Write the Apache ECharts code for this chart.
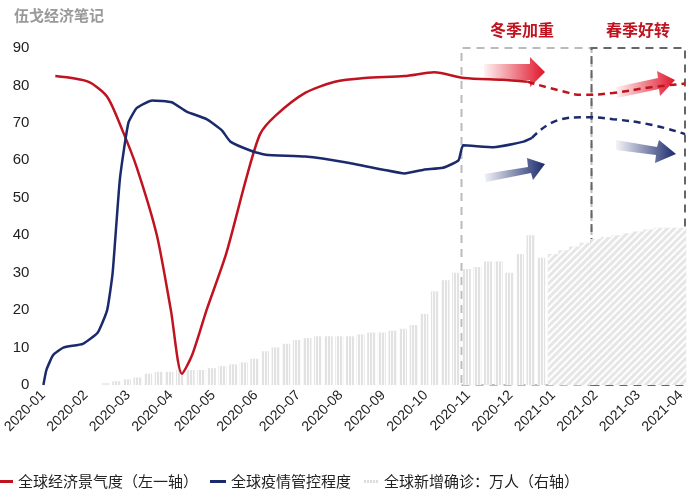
<!DOCTYPE html>
<html style="height: 100%">
<head>
<meta charset="utf-8">
<script src="https://cdn.jsdelivr.net/npm/echarts@6/dist/echarts.min.js"></script>
</head>
<body style="height: 100%; margin: 0">
<div id="container" style="height: 100%"></div>
<script type="text/javascript">
// x positions are in months counted from 2020-01
var monthLabels = ['2020-01','2020-02','2020-03','2020-04','2020-05','2020-06','2020-07','2020-08',
  '2020-09','2020-10','2020-11','2020-12','2021-01','2021-02','2021-03','2021-04'];

var econX = [0.28,1.05,1.5,1.86,2.2,2.67,3.0,3.26,3.5,3.84,4.3,4.77,5.1,5.47,6.16,6.86,7.56,8.5,9.2,9.9,10.8,11.4];
var econY = [82.5,81,77,68,58,40,20,3,8,20,35,55,67,72,78,81,82,82.5,83.5,82,81.5,81];
var econFx = [11.4,12.2,12.7,13.4,14.3,15.1];
var econFy = [81,78.5,77.5,78,79.5,80.5];

var ctrlX = [0,0.07,0.23,0.47,0.93,1.28,1.5,1.63,1.8,2.0,2.2,2.56,3.02,3.37,3.84,4.2,4.4,4.9,5.23,6.16,7.1,8.0,8.5,8.95,9.4,9.77,9.88,10.6,11.3,11.5];
var ctrlY = [0,4,8,10,11,14,20,30,55,70,74,76,75.5,73,71,68,65,62.5,61.5,61,59.5,57.5,56.5,57.5,58,60,64,63.5,65,66];
var ctrlFx = [11.5,12.2,12.7,13.4,14.3,15.1];
var ctrlFy = [66,71,71.5,71,69.5,67];

var caseX = [1.5,1.75,2.0,2.25,2.5,2.75,3.0,3.25,3.5,3.75,4.0,4.25,4.5,4.75,5.0,5.25,5.5,5.75,6.0,6.25,6.5,6.75,
  7.0,7.25,7.5,7.75,8.0,8.25,8.5,8.75,9.0,9.25,9.5,9.75,10.0,10.25,10.5,10.75,11.0,11.25,11.5,11.75];
var caseY = [0.5,1,1.5,2,3,3.5,3.5,4,4,4,4.5,5,5.5,6,7,9,10,11,12,12.5,13,13,13,13,13.5,14,14,14.5,15,16,19,25,
  28,30,31,31.5,33,33,30,35,40,34];
var caseFx = [12.0,12.25,12.5,12.75,13.0,13.25,13.5,13.75,14.0,14.25,14.5,14.75,15.0];
var caseFy = [35,36,37,38,39,39.5,40,40.5,41,41.5,42,42,42];

function pairs(xs, ys) { return xs.map(function (x, i) { return [x, ys[i]]; }); }

var chart = echarts.init(document.getElementById('container'));
var red = '#c0131f', navy = '#1a2a6c';
chart.setOption({
  animation: false,
  grid: { left: 35, right: 15, top: 48, bottom: 115 },
  legend: {
    bottom: 6, left: -8, itemGap: 12, itemWidth: 16, itemHeight: 3,
    textStyle: { fontSize: 15, color: '#222', fontFamily: 'Noto Sans CJK SC' },
    data: [
      { name: '全球经济景气度（左一轴）', icon: 'rect', itemStyle: { color: red } },
      { name: '全球疫情管控程度', icon: 'rect', itemStyle: { color: navy } },
      { name: '全球新增确诊：万人（右轴）', icon: 'rect', itemHeight: 10, itemStyle: { color: '#ddd' } }
    ]
  },
  graphic: [
    { type: 'text', left: 14, top: 8, style: { text: '伍戈经济笔记', fill: '#999', font: 'bold 15px "Noto Sans CJK SC"' } },
    { type: 'text', left: 490, top: 22, style: { text: '冬季加重', fill: red, font: 'bold 16px "Noto Sans CJK SC"' } },
    { type: 'text', left: 606, top: 22, style: { text: '春季好转', fill: red, font: 'bold 16px "Noto Sans CJK SC"' } },
    { type: 'polygon', shape: { points: [[484,64],[530,64],[530,57],[545,72],[530,87],[530,80],[484,80]] },
      style: { fill: new echarts.graphic.LinearGradient(0,0,1,0,[{offset:0,color:'rgba(225,20,40,0.05)'},{offset:1,color:'#e0142a'}]) } },
    { type: 'polygon', shape: { points: [[616,87],[658,78],[657,71],[675,80],[660,96],[659,89],[617,98]] },
      style: { fill: new echarts.graphic.LinearGradient(0,0,1,0,[{offset:0,color:'rgba(225,20,40,0.05)'},{offset:1,color:'#e0142a'}]) } },
    { type: 'polygon', shape: { points: [[484,174],[528,167],[527,158],[545,164],[533,180],[531,173],[486,182]] },
      style: { fill: new echarts.graphic.LinearGradient(0,0,1,0,[{offset:0,color:'rgba(26,42,108,0.05)'},{offset:1,color:navy}]) } },
    { type: 'polygon', shape: { points: [[616,140],[657,147],[659,140],[676,154],[655,163],[656,155],[616,150]] },
      style: { fill: new echarts.graphic.LinearGradient(0,0,1,0,[{offset:0,color:'rgba(26,42,108,0.05)'},{offset:1,color:navy}]) } }
  ],
  xAxis: {
    type: 'value', min: 0, max: 15.1, interval: 1,
    axisLine: { show: false }, axisTick: { show: false }, splitLine: { show: false },
    axisLabel: {
      rotate: 45, fontSize: 14, color: '#222', margin: 8, fontFamily: 'Liberation Sans',
      showMaxLabel: false,
      formatter: function (v) { return monthLabels[Math.round(v)] || ''; }
    }
  },
  yAxis: [
    { type: 'value', min: 0, max: 90, interval: 10, splitLine: { show: false },
      axisLine: { show: false }, axisTick: { show: false },
      axisLabel: { fontSize: 15, color: '#222', margin: 14, fontFamily: 'Liberation Sans' } },
    { type: 'value', min: 0, max: 90, show: false }
  ],
  series: [
    { name: '全球新增确诊：万人（右轴）', type: 'bar', yAxisIndex: 1, barWidth: 8, barGap: '-100%',
      itemStyle: { color: '#e2e2e2', decal: { symbol: 'rect', color: 'rgba(255,255,255,0.9)', dashArrayX: [[1, 2]], dashArrayY: [10, 0], symbolSize: 1 } },
      data: pairs(caseX, caseY),
      markArea: { silent: true, itemStyle: { color: 'rgba(0,0,0,0)', borderWidth: 2, borderType: [8, 6] },
        data: [
          [{ coord: [9.84, 91.5], itemStyle: { borderColor: '#bbb' } }, { coord: [12.9, -1.5] }],
          [{ coord: [12.9, 91.5], itemStyle: { borderColor: '#666' } }, { coord: [15.1, -1.5] }]
        ] } },
    { name: 'caseF', type: 'bar', yAxisIndex: 1, barWidth: 11,
      itemStyle: { color: '#e6e6e6', decal: { symbol: 'rect', color: '#fff', dashArrayX: [1, 0], dashArrayY: [2, 3], rotation: -Math.PI / 4 } },
      data: pairs(caseFx, caseFy) },
    { name: '全球经济景气度（左一轴）', type: 'line', smooth: 0.25, symbol: 'none',
      lineStyle: { color: red, width: 2.5 }, data: pairs(econX, econY) },
    { name: 'econF', type: 'line', smooth: true, symbol: 'none',
      lineStyle: { color: red, width: 2.5, type: [7, 5] }, data: pairs(econFx, econFy) },
    { name: '全球疫情管控程度', type: 'line', smooth: 0.15, symbol: 'none',
      lineStyle: { color: navy, width: 2.5 }, data: pairs(ctrlX, ctrlY) },
    { name: 'ctrlF', type: 'line', smooth: true, symbol: 'none',
      lineStyle: { color: navy, width: 2.5, type: [7, 5] }, data: pairs(ctrlFx, ctrlFy) }
  ]
});
window.onresize = chart.resize;
</script>
</body>
</html>
